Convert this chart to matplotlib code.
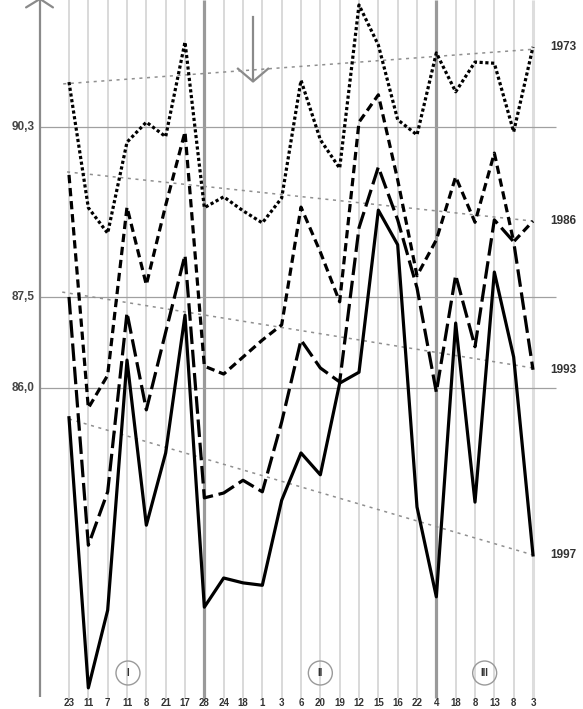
import matplotlib
matplotlib.use("Agg")
import matplotlib.pyplot as plt
from matplotlib.patches import Ellipse

# category labels along the bottom
labels = ["23", "11", "7", "11", "8", "21", "17", "28", "24", "18", "1", "3", "6",
          "20", "19", "12", "15", "16", "22", "4", "18", "8", "13", "8", "3"]

# series values
s1973 = [91.04, 88.97, 88.55, 90.05, 90.38, 90.14, 91.70, 88.97, 89.15, 88.92, 88.72, 89.13,
         91.07, 90.09, 89.62, 92.31, 91.65, 90.42, 90.17, 91.52, 90.88, 91.37, 91.35, 90.22, 91.62]
s1986 = [89.51, 85.67, 86.21, 88.98, 87.70, 89.01, 90.22, 86.36, 86.23, 86.51, 86.79, 87.04,
         88.98, 88.24, 87.42, 90.38, 90.83, 89.43, 87.85, 88.44, 89.48, 88.73, 89.87, 88.41, 88.75]
s1993 = [87.50, 83.41, 84.29, 87.24, 85.64, 86.92, 88.19, 84.19, 84.27, 84.48, 84.29, 85.44,
         86.79, 86.33, 86.10, 88.64, 89.64, 88.77, 87.65, 85.93, 87.86, 86.68, 88.77, 88.41, 86.30]
s1997 = [85.51, 81.06, 82.34, 86.46, 83.74, 84.93, 87.20, 82.39, 82.87, 82.79, 82.75, 84.15,
         84.93, 84.57, 86.08, 86.26, 88.93, 88.36, 84.04, 82.56, 87.07, 84.12, 87.91, 86.51, 83.25]

years = ["1973", "1986", "1993", "1997"]
# trend line ends (start value, end value)
trend_start = [91.01, 89.56, 87.58, 85.49]
trend_end = [91.58, 88.75, 86.33, 83.25]

yticks = [90.3, 87.5, 86.0]
ytick_labels = ["90,3", "87,5", "86,0"]
groups = ["I", "II", "III"]
group_pos = [3.05, 13.0, 21.5]

series = [s1973, s1986, s1993, s1997]
styles = [(0, (1.0, 0.8)), (0, (2.6, 1.5)), (0, (5.5, 1.8)), "-"]
trend_x0 = [-0.3, -0.1, -0.35, 0.0]

fig = plt.figure(figsize=(5.83, 7.09), dpi=100)
ax = fig.add_axes([0, 0, 1, 1])
ax.set_xlim(-3.569, 26.586)
ax.set_ylim(80.712, 92.392)
ax.axis("off")

x = list(range(len(labels)))

# vertical grid
for i in x:
    if i in (7, 19):
        ax.vlines(i, 80.89, 92.4, color="#9a9a9a", lw=2.3, zorder=1)
    elif i == 24:
        ax.vlines(i, 80.89, 92.4, color="#dddddd", lw=2.2, zorder=1)
    else:
        ax.vlines(i, 80.89, 92.4, color="#cfcfcf", lw=1.1, zorder=1)

# horizontal grid lines and tick labels
for v, t in zip(yticks, ytick_labels):
    ax.hlines(v, -1.5, 25.19, color="#a0a0a0", lw=0.9, zorder=1)
    ax.text(-1.8, v, t, ha="right", va="center", fontsize=8.5, fontweight="bold",
            color="#444444", family="Liberation Sans")

# left axis with arrow
ax.vlines(-1.5, 80.91, 92.42, color="#8a8a8a", lw=1.6, zorder=2)
ax.plot([-2.22, -1.5, -0.83], [92.27, 92.41, 92.27], color="#8a8a8a", lw=1.6,
        solid_capstyle="round", clip_on=False, zorder=2)

# arrow in the middle
ax.plot([9.52, 9.52], [92.11, 91.06], color="#8a8a8a", lw=1.6, zorder=2)
ax.plot([8.74, 9.52, 10.30], [91.26, 91.05, 91.26], color="#8a8a8a", lw=1.6, zorder=2)

# trend lines
for k in range(4):
    ax.plot([trend_x0[k], 24], [trend_start[k], trend_end[k]], color="#8f8f8f", lw=1.1,
            linestyle=(0, (2, 3)), zorder=3)

# series
for k in range(4):
    ax.plot(x, series[k], color="black", lw=2.3, linestyle=styles[k], zorder=5)
    ax.text(24.88, series[k][-1], years[k], ha="left", va="center", fontsize=8.5,
            fontweight="bold", color="#333333", family="Liberation Sans")

# group markers
for g, p in zip(groups, group_pos):
    ax.add_patch(Ellipse((p, 81.305), 1.24, 0.395, fc="none", ec="#9a9a9a", lw=1.0, zorder=4))
    ax.text(p, 81.305, g, ha="center", va="center", fontsize=7, fontweight="bold",
            color="#333333", family="Liberation Sans")

# bottom labels
for i, t in zip(x, labels):
    ax.text(i, 80.722, t, ha="center", va="bottom", fontsize=7, fontweight="bold",
            color="#333333", family="Liberation Sans")

fig.savefig("out.png", dpi=100)
